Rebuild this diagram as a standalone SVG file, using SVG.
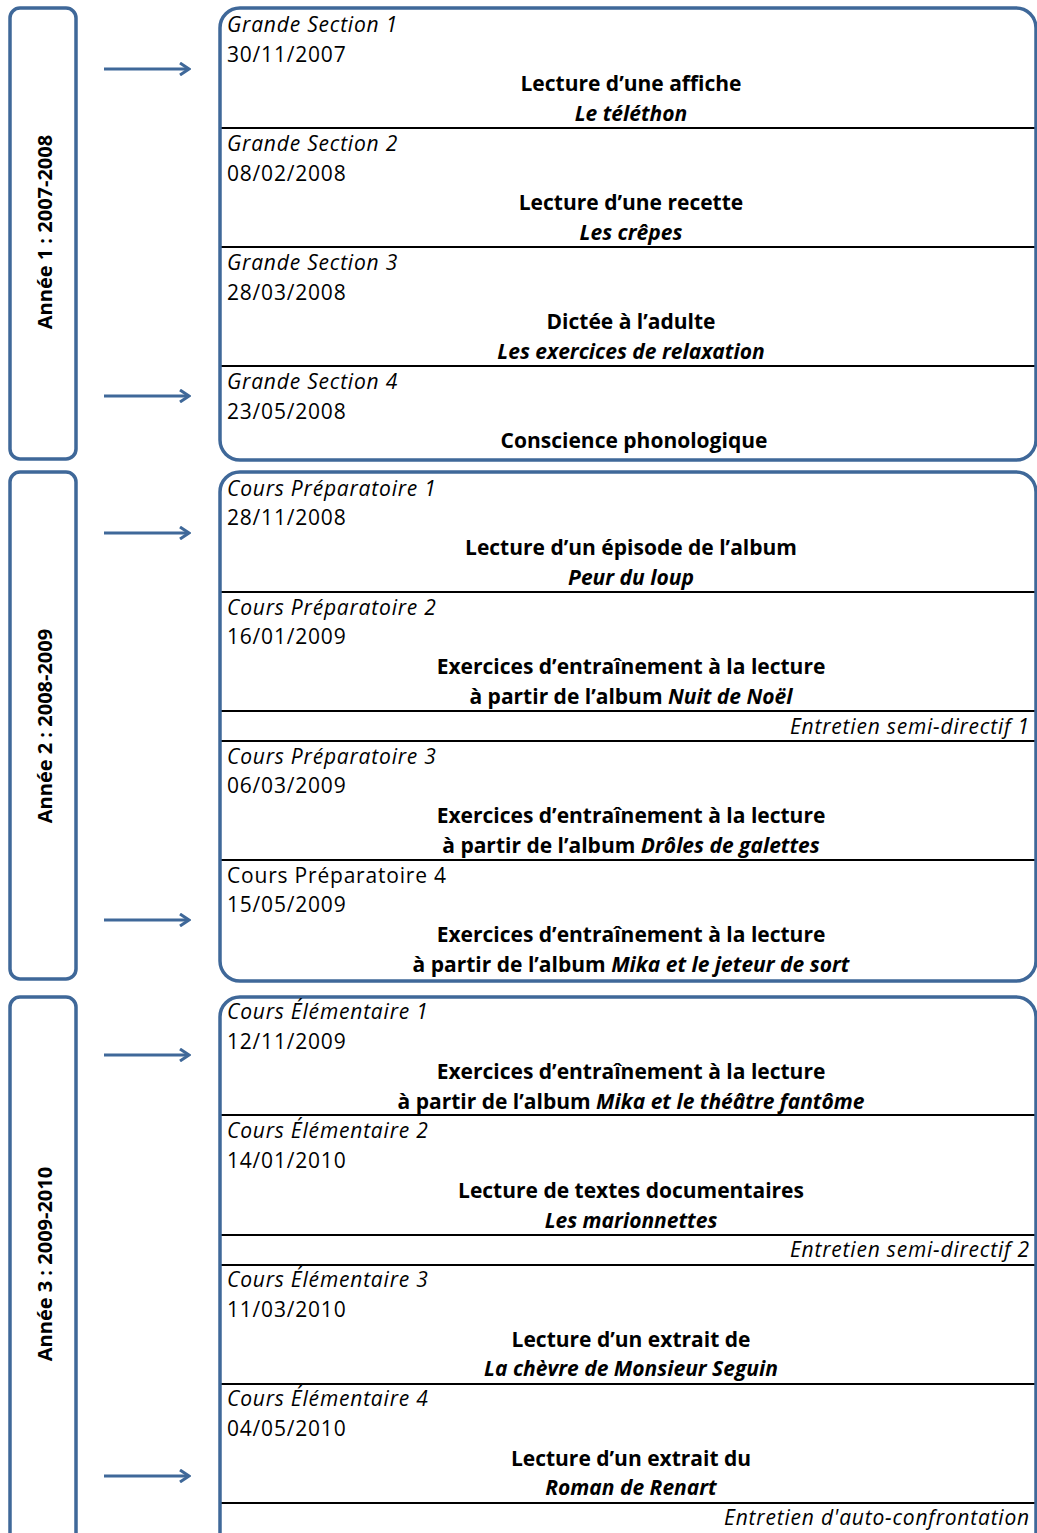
<svg xmlns="http://www.w3.org/2000/svg" width="1037" height="1533" viewBox="0 0 1037 1533">
<style>
.box{fill:none;stroke:#3f6899;stroke-width:3.5}
.sep{stroke:#000;stroke-width:2}
.arr{stroke:#3f6899;stroke-width:3;fill:none}
text{font-family:"Open Sans","Liberation Sans",sans-serif;font-size:21px;fill:#000;letter-spacing:0.8px}
.it{font-style:italic}
.b{font-weight:bold;text-anchor:middle;letter-spacing:0}
.bi{font-weight:bold;font-style:italic;text-anchor:middle;letter-spacing:0}
.r{font-style:italic;text-anchor:end}
.yr{font-weight:bold;text-anchor:middle;font-size:20px;letter-spacing:0}
</style>
<defs>
<marker id="ah" markerWidth="12" markerHeight="14" refX="10" refY="7" orient="auto" markerUnits="userSpaceOnUse">
<path d="M1,1 L10,7 L1,13" fill="none" stroke="#3f6899" stroke-width="3"/>
</marker>
</defs>
<g id="years">
<g id="year1"><rect class="box" x="10" y="8" width="66" height="451" rx="10"/><text class="yr" transform="translate(52,232) rotate(-90)">Année 1 : 2007-2008</text></g>
<g id="year2"><rect class="box" x="10" y="472" width="66" height="507" rx="10"/><text class="yr" transform="translate(52,726) rotate(-90)">Année 2 : 2008-2009</text></g>
<g id="year3"><rect class="box" x="10" y="997" width="66" height="560" rx="10"/><text class="yr" transform="translate(52,1264) rotate(-90)">Année 3 : 2009-2010</text></g>
</g>
<g id="connectors">
<line class="arr" x1="104" y1="69" x2="189" y2="69" marker-end="url(#ah)"/>
<line class="arr" x1="104" y1="396" x2="189" y2="396" marker-end="url(#ah)"/>
<line class="arr" x1="104" y1="533" x2="189" y2="533" marker-end="url(#ah)"/>
<line class="arr" x1="104" y1="920" x2="189" y2="920" marker-end="url(#ah)"/>
<line class="arr" x1="104" y1="1055" x2="189" y2="1055" marker-end="url(#ah)"/>
<line class="arr" x1="104" y1="1476" x2="189" y2="1476" marker-end="url(#ah)"/>
</g>
<g id="block1">
<line class="sep" x1="220" y1="128" x2="1036" y2="128"/>
<line class="sep" x1="220" y1="247" x2="1036" y2="247"/>
<line class="sep" x1="220" y1="366" x2="1036" y2="366"/>
<rect class="box" x="220" y="8" width="816" height="452" rx="20"/>
<g id="gs1"><text class="it" x="227" y="32">Grande Section 1</text><text x="227" y="62">30/11/2007</text><text class="b" x="631" y="91">Lecture d’une affiche</text><text class="bi" x="631" y="121">Le téléthon</text></g>
<g id="gs2"><text class="it" x="227" y="151">Grande Section 2</text><text x="227" y="181">08/02/2008</text><text class="b" x="631" y="210">Lecture d’une recette</text><text class="bi" x="631" y="240">Les crêpes</text></g>
<g id="gs3"><text class="it" x="227" y="270">Grande Section 3</text><text x="227" y="300">28/03/2008</text><text class="b" x="631" y="329">Dictée à l’adulte</text><text class="bi" x="631" y="359">Les exercices de relaxation</text></g>
<g id="gs4"><text class="it" x="227" y="389">Grande Section 4</text><text x="227" y="419">23/05/2008</text><text class="b" x="634" y="448">Conscience phonologique</text></g>
</g>
<g id="block2">
<line class="sep" x1="220" y1="592" x2="1036" y2="592"/>
<line class="sep" x1="220" y1="711" x2="1036" y2="711"/>
<line class="sep" x1="220" y1="741" x2="1036" y2="741"/>
<line class="sep" x1="220" y1="860" x2="1036" y2="860"/>
<rect class="box" x="220" y="472" width="816" height="509" rx="20"/>
<g id="cp1"><text class="it" x="227" y="496">Cours Préparatoire 1</text><text x="227" y="525">28/11/2008</text><text class="b" x="631" y="555">Lecture d’un épisode de l’album</text><text class="bi" x="631" y="585">Peur du loup</text></g>
<g id="cp2"><text class="it" x="227" y="615">Cours Préparatoire 2</text><text x="227" y="644">16/01/2009</text><text class="b" x="631" y="674">Exercices d’entraînement à la lecture</text><text class="b" x="631" y="704">à partir de l’album <tspan font-style="italic">Nuit de Noël</tspan></text></g>
<g id="esd1"><text class="r" x="1030" y="734">Entretien semi-directif 1</text></g>
<g id="cp3"><text class="it" x="227" y="764">Cours Préparatoire 3</text><text x="227" y="793">06/03/2009</text><text class="b" x="631" y="823">Exercices d’entraînement à la lecture</text><text class="b" x="631" y="853">à partir de l’album <tspan font-style="italic">Drôles de galettes</tspan></text></g>
<g id="cp4"><text x="227" y="883">Cours Préparatoire 4</text><text x="227" y="912">15/05/2009</text><text class="b" x="631" y="942">Exercices d’entraînement à la lecture</text><text class="b" x="631" y="972">à partir de l’album <tspan font-style="italic">Mika et le jeteur de sort</tspan></text></g>
</g>
<g id="block3">
<line class="sep" x1="220" y1="1115" x2="1036" y2="1115"/>
<line class="sep" x1="220" y1="1235" x2="1036" y2="1235"/>
<line class="sep" x1="220" y1="1265" x2="1036" y2="1265"/>
<line class="sep" x1="220" y1="1384" x2="1036" y2="1384"/>
<line class="sep" x1="220" y1="1503" x2="1036" y2="1503"/>
<rect class="box" x="220" y="997" width="816" height="560" rx="20"/>
<g id="ce1"><text class="it" x="227" y="1019">Cours Élémentaire 1</text><text x="227" y="1049">12/11/2009</text><text class="b" x="631" y="1079">Exercices d’entraînement à la lecture</text><text class="b" x="631" y="1109">à partir de l’album <tspan font-style="italic">Mika et le théâtre fantôme</tspan></text></g>
<g id="ce2"><text class="it" x="227" y="1138">Cours Élémentaire 2</text><text x="227" y="1168">14/01/2010</text><text class="b" x="631" y="1198">Lecture de textes documentaires</text><text class="bi" x="631" y="1228">Les marionnettes</text></g>
<g id="esd2"><text class="r" x="1030" y="1257">Entretien semi-directif 2</text></g>
<g id="ce3"><text class="it" x="227" y="1287">Cours Élémentaire 3</text><text x="227" y="1317">11/03/2010</text><text class="b" x="631" y="1347">Lecture d’un extrait de</text><text class="bi" x="631" y="1376">La chèvre de Monsieur Seguin</text></g>
<g id="ce4"><text class="it" x="227" y="1406">Cours Élémentaire 4</text><text x="227" y="1436">04/05/2010</text><text class="b" x="631" y="1466">Lecture d’un extrait du</text><text class="bi" x="631" y="1495">Roman de Renart</text></g>
<g id="eac"><text class="r" x="1030" y="1525">Entretien d'auto-confrontation</text></g>
</g>
</svg>
